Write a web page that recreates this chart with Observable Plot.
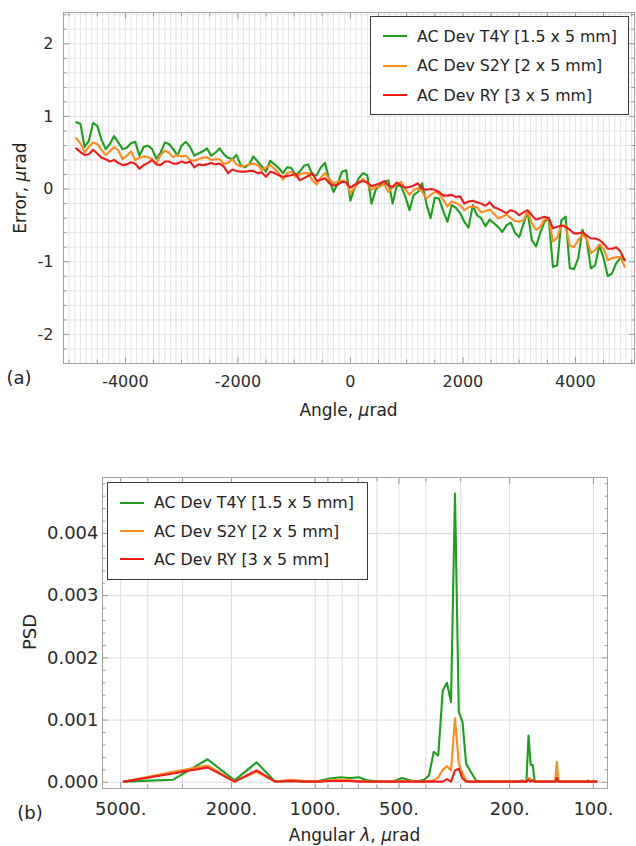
<!DOCTYPE html>
<html>
<head>
<meta charset="utf-8">
<script src="https://cdn.jsdelivr.net/npm/d3@7"></script>
<script src="https://cdn.jsdelivr.net/npm/@observablehq/plot@0.6"></script>
<style>
  body { margin: 0; background: #fff; }
  #wrap { position: relative; width: 636px; height: 846px; overflow: hidden; font-family: "DejaVu Sans", sans-serif; color: #222; }
  #wrap svg { position: absolute; left: 0; }
  .lbl { position: absolute; white-space: nowrap; line-height: 1; }
  .legend { position: absolute; border: 1.2px solid #3a3a3a; background: #fff; box-sizing: border-box; }
  .row { position: absolute; left: 0; height: 20px; display: flex; align-items: center; font-size: 15.8px; white-space: nowrap; }
</style>
</head>
<body>
<div id="wrap"></div>
<script>
// ---------- shared ----------
const seriesNames = ["AC Dev T4Y [1.5 x 5 mm]", "AC Dev S2Y [2 x 5 mm]", "AC Dev RY [3 x 5 mm]"];
const seriesColors = ["#1e9e1e", "#ff8c1e", "#f01c1c"];

// ---------- panel (a): error vs angle ----------
const angleFirst = -4875;   // first sample angle, µrad
const angleStep = 75;       // sample spacing, µrad
const errT4Y = [
  0.92, 0.90, 0.58, 0.66, 0.91, 0.87, 0.68, 0.55, 0.62, 0.73,
  0.64, 0.55, 0.57, 0.63, 0.65, 0.46, 0.58, 0.60, 0.55, 0.42,
  0.50, 0.64, 0.62, 0.55, 0.46, 0.60, 0.65, 0.58, 0.46, 0.49,
  0.52, 0.56, 0.46, 0.50, 0.56, 0.48, 0.43, 0.41, 0.47, 0.33,
  0.30, 0.34, 0.45, 0.38, 0.31, 0.24, 0.39, 0.34, 0.29, 0.22,
  0.30, 0.29, 0.19, 0.24, 0.32, 0.34, 0.19, 0.19, 0.30, 0.36,
  0.12, -0.04, 0.08, 0.24, 0.26, -0.16, 0.02, 0.15, 0.22, 0.19,
  -0.20, -0.01, 0.06, 0.10, 0.12, -0.20, 0.05, 0.04, -0.10, -0.29,
  -0.08, -0.04, 0.08, -0.20, -0.40, -0.12, -0.13, -0.30, -0.45, -0.22,
  -0.26, -0.33, -0.45, -0.53, -0.22, -0.36, -0.40, -0.51, -0.42, -0.47,
  -0.52, -0.59, -0.50, -0.46, -0.60, -0.66, -0.48, -0.31, -0.70, -0.79,
  -0.60, -0.45, -0.40, -1.07, -1.05, -0.43, -0.38, -1.09, -1.10, -0.95,
  -0.56, -0.70, -1.09, -1.05, -0.77, -0.95, -1.20, -1.16, -1.02, -0.95,
  -0.97
];
const errS2Y = [
  0.70, 0.63, 0.51, 0.58, 0.64, 0.62, 0.54, 0.47, 0.52, 0.58,
  0.53, 0.41, 0.46, 0.52, 0.40, 0.43, 0.45, 0.44, 0.41, 0.35,
  0.47, 0.53, 0.50, 0.44, 0.47, 0.45, 0.46, 0.40, 0.39, 0.41,
  0.43, 0.44, 0.40, 0.41, 0.41, 0.35, 0.36, 0.41, 0.34, 0.31,
  0.32, 0.34, 0.35, 0.33, 0.26, 0.30, 0.33, 0.28, 0.22, 0.13,
  0.22, 0.24, 0.17, 0.20, 0.22, 0.22, 0.12, 0.06, 0.16, 0.22,
  0.14, 0.08, 0.10, 0.12, 0.10, -0.06, 0.02, 0.09, 0.14, 0.08,
  -0.01, 0.03, 0.03, 0.07, -0.04, 0.02, 0.06, 0.10, 0.00, -0.08,
  -0.01, 0.01, -0.04, -0.13, -0.08, -0.04, -0.06, -0.15, -0.24, -0.17,
  -0.19, -0.22, -0.29, -0.25, -0.24, -0.25, -0.32, -0.30, -0.28, -0.34,
  -0.40, -0.38, -0.35, -0.40, -0.44, -0.45, -0.43, -0.31, -0.47, -0.56,
  -0.52, -0.42, -0.40, -0.72, -0.67, -0.50, -0.50, -0.78, -0.80, -0.70,
  -0.63, -0.68, -0.88, -0.84, -0.76, -0.82, -0.98, -0.95, -0.94, -0.93,
  -1.07
];
const errRY = [
  0.56, 0.51, 0.47, 0.48, 0.54, 0.49, 0.43, 0.41, 0.38, 0.40,
  0.36, 0.33, 0.34, 0.37, 0.35, 0.28, 0.33, 0.36, 0.40, 0.34,
  0.33, 0.38, 0.38, 0.35, 0.35, 0.38, 0.36, 0.38, 0.30, 0.34,
  0.33, 0.34, 0.36, 0.34, 0.35, 0.31, 0.22, 0.27, 0.25, 0.24,
  0.24, 0.25, 0.25, 0.22, 0.23, 0.17, 0.24, 0.22, 0.19, 0.17,
  0.18, 0.19, 0.21, 0.12, 0.15, 0.18, 0.22, 0.11, 0.13, 0.15,
  0.08, 0.05, 0.06, 0.10, 0.09, 0.02, 0.06, 0.09, 0.11, 0.09,
  0.04, 0.06, 0.08, 0.11, 0.05, 0.03, 0.09, 0.05, 0.02, 0.03,
  0.05, 0.08, 0.00, -0.01, 0.00, -0.01, -0.04, -0.09, -0.09, -0.08,
  -0.11, -0.10, -0.20, -0.17, -0.16, -0.18, -0.20, -0.23, -0.18, -0.25,
  -0.27, -0.30, -0.33, -0.29, -0.31, -0.36, -0.32, -0.29, -0.36, -0.42,
  -0.40, -0.38, -0.40, -0.54, -0.52, -0.50, -0.52, -0.56, -0.61, -0.61,
  -0.59, -0.64, -0.68, -0.68, -0.70, -0.75, -0.82, -0.82, -0.80, -0.86,
  -0.98
];
const errXTicks = [-4000, -2000, 0, 2000, 4000];
const errXMinorStep = 500;
const errXGridStep = 100;
const errYTicks = [-2, -1, 0, 1, 2];
const errYMinorStep = 0.2;

// ---------- panel (b): PSD vs angular wavelength ----------
const psdLambda = [
  4875, 3250, 2437.5, 1950, 1625, 1392.9, 1218.8, 1083.3, 975,
  886.4, 812.5, 750, 696.4, 650, 609.4, 573.5, 541.7, 513.2, 487.5,
  464.3, 443.2, 423.9, 406.3, 390, 375, 361.1, 348.2, 336.2, 325,
  314.5, 304.7, 295.5, 286.8, 278.6, 270.8, 263.5, 256.6, 250, 243.8,
  237.8, 232.1, 226.7, 221.6, 216.7, 212, 207.4, 203.1, 199, 195,
  191.2, 187.5, 184, 180.6, 177.3, 174.1, 171.1, 168.1, 165.3, 162.5,
  159.8, 157.3, 154.8, 152.3, 150, 147.7, 145.5, 143.4, 141.3, 139.3,
  137.3, 135.4, 133.6, 131.8, 130, 128.3, 126.6, 125, 123.4, 121.9,
  120.4, 118.9, 117.5, 116.1, 114.7, 113.4, 112.1, 110.8, 109.6, 108.3,
  107.1, 106, 104.8, 103.7, 102.6, 101.6, 100.5, 99.5, 98.5, 97.5
];
const psdT4Y = [
  0.00001, 0.00004, 0.00037, 0.00003, 0.00032, 0.00001, 0.00002, 0.00001, 0.00002,
  0.00006, 0.00008, 0.00007, 0.00008, 0.00003, 0.00002, 0.00001, 0.00001, 0.00003, 0.00007,
  0.00004, 0.00002, 0.00002, 0.00004, 0.00011, 0.00049, 0.00043, 0.00147, 0.00160, 0.00129,
  0.00464, 0.00113, 0.00097, 0.00030, 0.00020, 0.00011, 0.00002, 0.00002, 0.00001, 0.00001,
  0.00002, 0.00001, 0.00001, 0.00002, 0.00001, 0.00001, 0.00001, 0.00001, 0.00001, 0.00001,
  0.00001, 0.00002, 0.00001, 0.00003, 0.00001, 0.00001, 0.00075, 0.00028, 0.00028, 0.00001,
  0.00001, 0.00001, 0.00001, 0.00001, 0.00002, 0.00001, 0.00001, 0.00001, 0.00001, 0.00001,
  0.00001, 0.00002, 0.00001, 0.00001, 0.00001, 0.00001, 0.00001, 0.00001, 0.00001, 0.00001,
  0.00001, 0.00001, 0.00001, 0.00001, 0.00001, 0.00001, 0.00001, 0.00001, 0.00001, 0.00001,
  0.00001, 0.00001, 0.00003, 0.00001, 0.00001, 0.00001, 0.00001, 0.00001, 0.00001, 0.00001
];
const psdS2Y = [
  0.00001, 0.00017, 0.00027, 0.00001, 0.00017, 0.00001, 0.00004, 0.00002, 0.00001,
  0.00003, 0.00004, 0.00003, 0.00002, 0.00001, 0.00001, 0.00001, 0.00001, 0.00001, 0.00002,
  0.00002, 0.00001, 0.00001, 0.00001, 0.00002, 0.00003, 0.00008, 0.00020, 0.00026, 0.00019,
  0.00103, 0.00030, 0.00014, 0.00003, 0.00001, 0.00001, 0.00001, 0.00001, 0.00001, 0.00001,
  0.00001, 0.00001, 0.00001, 0.00002, 0.00001, 0.00001, 0.00001, 0.00001, 0.00001, 0.00001,
  0.00001, 0.00001, 0.00001, 0.00002, 0.00001, 0.00001, 0.00007, 0.00005, 0.00002, 0.00001,
  0.00001, 0.00001, 0.00001, 0.00001, 0.00001, 0.00001, 0.00001, 0.00001, 0.00001, 0.00001,
  0.00001, 0.00033, 0.00001, 0.00001, 0.00001, 0.00001, 0.00001, 0.00001, 0.00001, 0.00001,
  0.00001, 0.00001, 0.00001, 0.00001, 0.00001, 0.00001, 0.00001, 0.00001, 0.00001, 0.00001,
  0.00001, 0.00001, 0.00001, 0.00001, 0.00001, 0.00001, 0.00001, 0.00001, 0.00001, 0.00001
];
const psdRY = [
  0.00001, 0.00014, 0.00024, 0.00001, 0.00019, 0.00001, 0.00002, 0.00001, 0.00001,
  0.00002, 0.00002, 0.00002, 0.00001, 0.00001, 0.00001, 0.00001, 0.00001, 0.00001, 0.00001,
  0.00001, 0.00001, 0.00001, 0.00001, 0.00001, 0.00001, 0.00001, 0.00001, 0.00005, 0.00001,
  0.00019, 0.00022, 0.00006, 0.00001, 0.00001, 0.00001, 0.00001, 0.00001, 0.00001, 0.00001,
  0.00001, 0.00001, 0.00001, 0.00001, 0.00001, 0.00001, 0.00001, 0.00001, 0.00001, 0.00001,
  0.00001, 0.00001, 0.00001, 0.00001, 0.00001, 0.00001, 0.00004, 0.00001, 0.00003, 0.00001,
  0.00001, 0.00001, 0.00001, 0.00001, 0.00001, 0.00001, 0.00001, 0.00001, 0.00001, 0.00001,
  0.00001, 0.00007, 0.00001, 0.00001, 0.00001, 0.00001, 0.00001, 0.00001, 0.00001, 0.00001,
  0.00001, 0.00001, 0.00001, 0.00001, 0.00001, 0.00001, 0.00001, 0.00001, 0.00001, 0.00001,
  0.00001, 0.00001, 0.00001, 0.00001, 0.00001, 0.00001, 0.00001, 0.00001, 0.00001, 0.00001
];
const psdXTicks = [5000, 2000, 1000, 500, 200, 100];
const psdXMinor = [4000, 3000, 900, 800, 700, 600, 400, 300];
const psdYTicks = [0, 0.001, 0.002, 0.003, 0.004];
const psdYMinorStep = 0.0002;

// ---------- build ----------
const wrap = document.getElementById("wrap");
const tickStroke = "#9a9a9a";
const gridStroke = "#e4e4e4";
const frameStroke = "#a2a2a2";
const labelFill = "#2a2a2a";

const errSeries = [errT4Y, errS2Y, errRY];
const errRows = errSeries.flatMap((vals, s) =>
  vals.map((v, i) => ({series: seriesNames[s], angle: angleFirst + i * angleStep, error: v})));

const errXMinor = d3.range(-5000, 5001, errXMinorStep).filter(v => !errXTicks.includes(v));
const errXGrid = d3.range(-5100, 5051, errXGridStep).map(v => Math.round(v / 100) * 100);
const errYGrid = d3.range(-24, 25, errYMinorStep * 10).map(v => +(v / 10).toFixed(1));
const errYMinor = errYGrid.filter(v => !errYTicks.includes(v));

function frameAxes(xMajor, xMinor, yMajor, yMinor, xFmt, yFmt, xPad, yPad) {
  return [
    Plot.frame({stroke: frameStroke, strokeWidth: 1}),
    Plot.axisX(xMajor, {anchor: "bottom", tickSize: -6, tickPadding: xPad, stroke: tickStroke, fill: xFmt ? labelFill : "none", tickFormat: xFmt || undefined, label: null}),
    Plot.axisX(xMinor, {anchor: "bottom", tickSize: -3.5, stroke: tickStroke, fill: "none", label: null}),
    Plot.axisX(xMajor, {anchor: "top", tickSize: -6, stroke: tickStroke, fill: "none", label: null}),
    Plot.axisX(xMinor, {anchor: "top", tickSize: -3.5, stroke: tickStroke, fill: "none", label: null}),
    Plot.axisY(yMajor, {anchor: "left", tickSize: -6, tickPadding: yPad, stroke: tickStroke, fill: labelFill, tickFormat: yFmt, label: null}),
    Plot.axisY(yMinor, {anchor: "left", tickSize: -3.5, stroke: tickStroke, fill: "none", label: null}),
    Plot.axisY(yMajor, {anchor: "right", tickSize: -6, stroke: tickStroke, fill: "none", label: null}),
    Plot.axisY(yMinor, {anchor: "right", tickSize: -3.5, stroke: tickStroke, fill: "none", label: null})
  ];
}

const signedFmt = d => d < 0 ? "-" + (-d) : String(d);

const chartA = Plot.plot({
  width: 636, height: 420,
  marginTop: 12, marginRight: 2, marginBottom: 57, marginLeft: 63,
  style: {fontFamily: "'DejaVu Sans', sans-serif", fontSize: "16px", color: labelFill, background: "transparent"},
  x: {domain: [-5100, 5050], label: null},
  y: {domain: [-2.4, 2.43], label: null},
  marks: [
    Plot.gridX(errXGrid, {stroke: gridStroke, strokeOpacity: 1}),
    Plot.gridY(errYGrid, {stroke: gridStroke, strokeOpacity: 1}),
    ...seriesNames.map((name, s) => Plot.line(errRows.filter(d => d.series === name),
      {x: "angle", y: "error", stroke: seriesColors[s], strokeWidth: 2.1, strokeLinejoin: "round"})),
    ...frameAxes(errXTicks, errXMinor, errYTicks, errYMinor, signedFmt, signedFmt, 18.4, 16)
  ]
});
chartA.style.top = "0px";
wrap.appendChild(chartA);

const psdSeries = [psdT4Y, psdS2Y, psdRY];
const psdRows = psdSeries.flatMap((vals, s) =>
  vals.map((v, i) => ({series: seriesNames[s], lambda: psdLambda[i], psd: v})));
const psdXGrid = [...psdXTicks, ...psdXMinor];
const psdYMinor = d3.range(0, 25).map(i => +(i * psdYMinorStep).toFixed(4)).filter(v => !psdYTicks.includes(v));

const chartB = Plot.plot({
  width: 636, height: 426,
  marginTop: 57, marginRight: 29, marginBottom: 58, marginLeft: 102,
  style: {fontFamily: "'DejaVu Sans', sans-serif", fontSize: "18px", color: labelFill, background: "transparent"},
  x: {type: "log", domain: [5815, 89], label: null},
  y: {domain: [-0.0001, 0.0049], label: null},
  marks: [
    Plot.gridX(psdXGrid, {stroke: "#dcdcdc", strokeOpacity: 1}),
    Plot.gridY(psdYTicks, {stroke: "#dcdcdc", strokeOpacity: 1}),
    ...seriesNames.map((name, s) => Plot.line(psdRows.filter(d => d.series === name),
      {x: "lambda", y: "psd", stroke: seriesColors[s], strokeWidth: 2.1, strokeLinejoin: "round"})),
    ...frameAxes(psdXTicks, psdXMinor, psdYTicks, psdYMinor, null, d3.format(".3f"), 18, 10),
    // log-axis labels drawn as a text mark so that every tick (5000., 500. …) is labelled
    Plot.text(psdXTicks, {x: d => d, text: d => d + ".", frameAnchor: "bottom", lineAnchor: "top", dy: 14, fill: labelFill})
  ]
});
chartB.style.top = "420px";
wrap.appendChild(chartB);

// ---------- text labels ----------
function addText(html, x, y, size, rotate) {
  const d = document.createElement("div");
  d.className = "lbl";
  d.innerHTML = html;
  d.style.left = x + "px";
  d.style.top = y + "px";
  d.style.fontSize = size + "px";
  d.style.transform = "translate(-50%,-50%)" + (rotate ? " rotate(-90deg)" : "");
  wrap.appendChild(d);
}
addText("Angle, <i>μ</i>rad", 348.5, 410, 17);
addText("Error, <i>μ</i>rad", 20, 188, 17, true);
addText("(a)", 19, 378, 18);
addText("PSD", 30, 632, 18, true);
addText("(b)", 30, 813, 18);
addText("Angular <i>λ</i>, <i>μ</i>rad", 354.5, 835, 17);

// ---------- legends ----------
function addLegend(left, top, width, height, rowYs) {
  const box = document.createElement("div");
  box.className = "legend";
  Object.assign(box.style, {left: left + "px", top: top + "px", width: width + "px", height: height + "px"});
  seriesNames.forEach((name, s) => {
    const row = document.createElement("div");
    row.className = "row";
    row.style.top = (rowYs[s] - 10) + "px";
    row.innerHTML = `<svg width="46" height="20" style="position:static"><line x1="12" x2="36" y1="10" y2="10" stroke="${seriesColors[s]}" stroke-width="2"/></svg><span>${name}</span>`;
    box.appendChild(row);
  });
  wrap.appendChild(box);
}
addLegend(370, 16, 259, 99, [19, 48.5, 78]);
addLegend(107, 482, 261, 98, [19.5, 48, 76]);
</script>
</body>
</html>
